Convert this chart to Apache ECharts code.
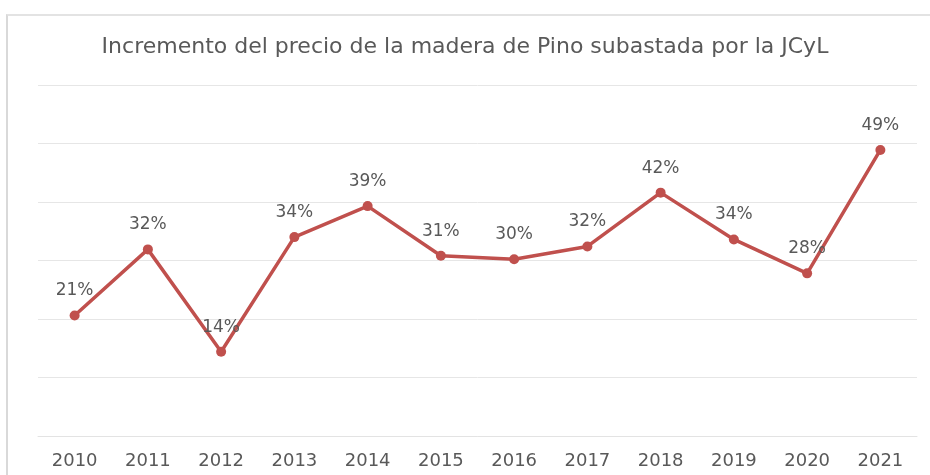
<!DOCTYPE html>
<html>
<head>
<meta charset="utf-8">
<script src="https://cdn.jsdelivr.net/npm/echarts@6/dist/echarts.min.js"></script>
<style>
  html, body { margin: 0; padding: 0; background: #fff; }
  #marco { position: absolute; left: 6px; top: 14px; width: 930px; height: 470px;
           border-left: 2px solid #d9d9d9; border-top: 2px solid #e3e3e3; }
  #grafico { position: absolute; left: 0; top: 0; width: 930px; height: 475px; }
</style>
</head>
<body>
<div id="marco"></div>
<div id="grafico"></div>
<script>
  // datos
  var anios = ['2010', '2011', '2012', '2013', '2014', '2015', '2016', '2017', '2018', '2019', '2020', '2021'];
  var incremento = [20.6, 31.9, 14.4, 34.0, 39.3, 30.8, 30.2, 32.4, 41.6, 33.6, 27.8, 48.9];
  var titulo = 'Incremento del precio de la madera de Pino subastada por la JCyL';

  var myChart = echarts.init(document.getElementById('grafico'));
  var option = {
    animation: false,
    title: {
      text: titulo,
      left: 'center',
      top: 31,
      textStyle: {
        fontFamily: 'DejaVu Sans',
        fontSize: 22,
        fontWeight: 'normal',
        color: '#595959'
      }
    },
    grid: {
      left: 38,
      right: 13,
      top: 85,
      bottom: 39
    },
    xAxis: {
      type: 'category',
      boundaryGap: true,
      data: anios,
      axisLine: { lineStyle: { color: '#e3e3e3', width: 1 } },
      axisTick: { show: false },
      axisLabel: {
        fontFamily: 'DejaVu Sans',
        fontSize: 18,
        color: '#595959',
        margin: 16
      }
    },
    yAxis: {
      type: 'value',
      min: 0,
      max: 60,
      interval: 10,
      axisLabel: { show: false },
      axisLine: { show: false },
      axisTick: { show: false },
      splitLine: { lineStyle: { color: '#e6e6e6', width: 1 } }
    },
    series: [
      {
        type: 'line',
        data: incremento,
        symbol: 'circle',
        symbolSize: 10,
        lineStyle: { color: '#c0504d', width: 3.5 },
        itemStyle: { color: '#c0504d' },
        label: {
          show: true,
          position: 'top',
          distance: 11,
          fontFamily: 'DejaVu Sans',
          fontSize: 17,
          color: '#595959',
          formatter: function (p) { return Math.round(p.value) + '%'; }
        }
      }
    ]
  };
  myChart.setOption(option);
</script>
</body>
</html>
